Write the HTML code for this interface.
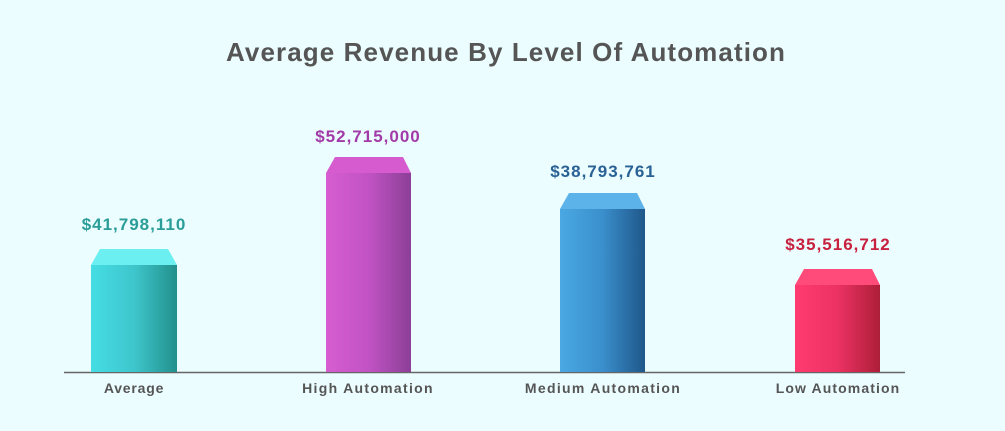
<!DOCTYPE html>
<html><head><style>
body{margin:0;background:#ebfdfe;}
svg{display:block;font-family:"Liberation Sans",sans-serif;}
</style></head><body>
<svg width="1005" height="431" viewBox="0 0 1005 431">
<defs>
<linearGradient id="g1" x1="0" x2="1"><stop offset="0" stop-color="#45dde4"/><stop offset="0.5" stop-color="#3ec6cc"/><stop offset="1" stop-color="#22908c"/></linearGradient>
<linearGradient id="g2" x1="0" x2="1"><stop offset="0" stop-color="#d65dd0"/><stop offset="0.5" stop-color="#c253c4"/><stop offset="1" stop-color="#8b3f97"/></linearGradient>
<linearGradient id="g3" x1="0" x2="1"><stop offset="0" stop-color="#4aa8e2"/><stop offset="0.5" stop-color="#3a8fcc"/><stop offset="1" stop-color="#1f578a"/></linearGradient>
<linearGradient id="g4" x1="0" x2="1"><stop offset="0" stop-color="#ff3b70"/><stop offset="0.5" stop-color="#ec3263"/><stop offset="1" stop-color="#ad1e38"/></linearGradient>
</defs>
<text x="506" y="61" text-anchor="middle" font-size="26" font-weight="bold" fill="#555" letter-spacing="1.1">Average Revenue By Level Of Automation</text>
<line x1="64" y1="372.5" x2="905" y2="372.5" stroke="#666" stroke-width="1.5"/>
<polygon points="100,249 168,249 177,265 91,265" fill="#6beff0"/>
<rect x="91" y="265" width="86" height="107" fill="url(#g1)"/>
<text x="134" y="230" text-anchor="middle" font-size="17" font-weight="bold" fill="#2a9d98" letter-spacing="1">$41,798,110</text>
<text x="134" y="393" text-anchor="middle" font-size="14" font-weight="bold" fill="#555" letter-spacing="0.8">Average</text>
<polygon points="335,157 403,157 411,173 326,173" fill="#d65bcf"/>
<rect x="326" y="173" width="85" height="199" fill="url(#g2)"/>
<text x="368" y="142" text-anchor="middle" font-size="17" font-weight="bold" fill="#a23aa8" letter-spacing="1">$52,715,000</text>
<text x="368" y="393" text-anchor="middle" font-size="14" font-weight="bold" fill="#555" letter-spacing="1.3">High Automation</text>
<polygon points="569,193 637,193 645,209 560,209" fill="#5cb3ea"/>
<rect x="560" y="209" width="85" height="163" fill="url(#g3)"/>
<text x="603" y="177" text-anchor="middle" font-size="17" font-weight="bold" fill="#2a6296" letter-spacing="1">$38,793,761</text>
<text x="603" y="393" text-anchor="middle" font-size="14" font-weight="bold" fill="#555" letter-spacing="1.3">Medium Automation</text>
<polygon points="804,269 872,269 880,285 795,285" fill="#ff4b7a"/>
<rect x="795" y="285" width="85" height="87" fill="url(#g4)"/>
<text x="838" y="250" text-anchor="middle" font-size="17" font-weight="bold" fill="#c8203f" letter-spacing="1">$35,516,712</text>
<text x="838" y="393" text-anchor="middle" font-size="14" font-weight="bold" fill="#555" letter-spacing="1.1">Low Automation</text>
</svg>
</body></html>
